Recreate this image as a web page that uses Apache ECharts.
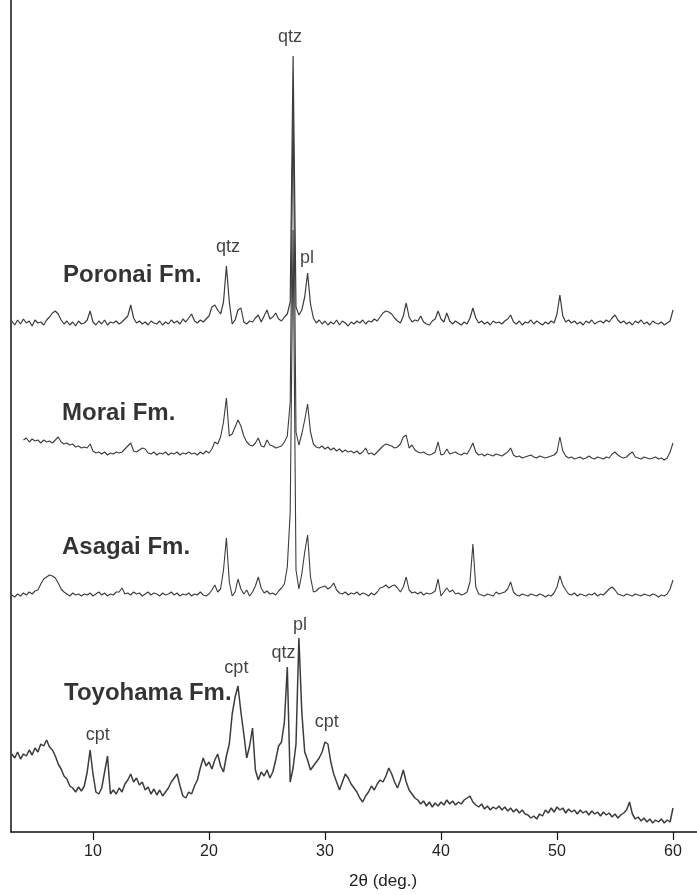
<!DOCTYPE html>
<html>
<head>
<meta charset="utf-8">
<script src="https://cdn.jsdelivr.net/npm/echarts@6/dist/echarts.min.js"></script>
<style>
  html, body { margin: 0; padding: 0; background: #fff; }
  #chart { width: 697px; height: 895px; }
</style>
</head>
<body>
<div id="chart"></div>
<script>
// 2θ sampling of the traces (deg.)
const twoThetaStart = 3.0;
const twoThetaStep = 0.25;

// stacked intensities (arbitrary units, offsets included)
const poronai = [
  511,507,512,508,513,509,511,506,512,509,
  510,507,512,515,519,521,518,512,508,511,
  507,510,506,511,508,509,512,521,510,507,
  511,508,512,507,510,509,511,508,510,513,
  516,527,514,509,511,508,510,507,511,509,
  508,511,507,510,508,512,509,511,508,513,
  510,514,518,511,509,512,510,513,516,525,
  527,522,518,530,566,530,508,512,522,524,
  510,508,511,510,514,517,510,516,522,513,
  515,519,513,511,515,518,530,776,525,517,
  522,535,559,528,514,509,512,508,511,507,
  510,508,512,507,511,509,506,510,508,511,
  509,512,508,511,510,513,511,515,519,521,
  520,518,514,511,509,516,529,515,510,512,
  511,516,510,508,507,511,513,521,513,510,
  519,511,508,511,509,507,510,508,514,524,
  514,509,511,508,510,507,511,509,510,508,
  511,513,517,510,508,511,507,510,509,512,
  508,511,509,507,510,508,511,509,518,537,
  516,510,512,509,511,508,510,507,511,509,
  512,508,510,511,509,512,510,514,517,512,
  509,511,508,510,507,511,509,512,508,510,
  507,511,509,508,510,507,509,511,522
];

const morai = [
  null,null,null,null,392,394,390,393,391,392,
  389,392,390,391,389,392,395,390,388,389,
  387,388,385,386,384,385,384,388,381,379,
  380,378,380,377,379,378,380,379,380,383,
  386,389,381,380,382,384,383,379,378,380,
  377,379,378,380,377,379,378,380,377,379,
  378,380,378,379,377,380,378,381,379,383,
  390,388,395,410,434,396,398,405,412,406,
  396,390,387,386,389,394,386,385,392,387,
  386,384,385,386,390,396,430,729,400,387,
  398,412,428,400,388,385,384,386,383,385,
  382,384,381,383,380,382,380,381,379,381,
  378,380,384,378,379,377,380,383,386,388,
  387,386,384,385,388,395,397,384,387,382,
  380,379,380,378,377,378,380,390,377,378,
  383,378,379,380,378,377,379,378,383,389,
  380,377,378,376,378,377,376,378,377,376,
  378,380,384,377,375,376,374,375,376,377,
  375,374,376,375,374,375,376,377,380,395,
  381,376,374,375,373,374,375,373,374,376,
  374,373,375,374,373,375,374,378,380,377,
  375,374,375,378,380,375,374,373,375,374,
  373,374,375,373,374,372,374,380,389
];

const asagai = [
  237,235,238,236,239,237,240,238,241,242,
  248,253,255,257,256,254,249,243,240,238,
  236,239,237,238,236,238,237,239,236,238,
  240,237,239,236,238,237,240,240,244,238,
  239,237,240,238,239,236,238,240,237,239,
  238,236,239,237,238,240,237,239,236,238,
  237,239,236,238,237,240,237,236,238,242,
  247,240,243,262,294,250,236,240,253,243,
  238,242,236,240,246,255,244,239,241,238,
  239,237,241,244,248,265,320,602,262,243,
  258,280,297,255,240,241,244,245,246,243,
  245,249,242,239,238,240,237,239,238,240,
  237,239,238,236,239,237,240,244,245,247,
  244,246,247,244,240,245,255,242,239,240,
  238,240,237,239,238,239,241,253,236,240,
  244,240,242,238,239,237,238,240,250,288,
  245,238,237,236,238,237,236,240,238,239,
  240,243,250,240,237,236,238,237,236,238,
  237,236,238,237,235,237,236,239,245,256,
  247,242,238,237,239,236,238,237,236,238,
  237,239,236,238,237,240,243,245,242,238,
  237,236,238,237,236,238,237,236,238,237,
  236,238,237,235,237,236,238,243,252
];

const toyohama = [
  78,74,80,73,78,76,82,77,84,80,
  88,86,92,85,82,76,68,63,56,53,
  46,44,40,45,41,46,60,82,58,40,
  38,44,60,76,38,42,38,44,40,48,
  52,58,50,54,47,50,42,45,38,43,
  37,42,36,40,44,50,54,58,46,36,
  34,40,38,46,52,64,74,66,70,63,
  72,78,66,60,76,88,118,135,146,120,
  98,74,86,104,62,52,60,56,62,54,
  60,72,86,90,110,165,50,64,88,194,
  120,80,72,62,66,70,74,80,90,88,
  70,58,50,42,50,58,54,48,44,40,
  34,30,36,40,46,42,48,52,50,56,
  64,58,50,44,52,62,50,42,38,34,
  32,28,31,26,30,25,29,26,30,27,
  32,28,31,27,30,28,32,34,36,30,
  27,25,28,23,26,22,25,23,26,22,
  25,21,24,20,23,19,22,18,17,14,
  16,13,18,16,22,19,24,20,25,22,
  24,19,23,20,22,18,22,19,21,17,
  21,18,20,16,20,17,19,15,18,14,
  17,19,22,30,18,13,15,11,14,10,
  13,9,12,10,13,9,12,10,24
];

// formation names: [text, 2θ, intensity]
const sampleNames = [
  ['Poronai Fm.', 7.41, 557],
  ['Morai Fm.', 7.33, 419],
  ['Asagai Fm.', 7.33, 285],
  ['Toyohama Fm.', 7.50, 139]
];

// mineral labels: [text, 2θ, intensity]
const peakLabels = [
  ['qtz', 26.98, 795],
  ['qtz', 21.64, 585],
  ['pl', 28.45, 574],
  ['cpt', 10.41, 97],
  ['cpt', 22.36, 164],
  ['qtz', 26.43, 179],
  ['pl', 27.84, 207],
  ['cpt', 30.15, 110]
];

const xTicks = [10, 20, 30, 40, 50, 60];

const chart = echarts.init(document.getElementById('chart'));

const toPairs = values => values.map((v, i) => [twoThetaStart + i * twoThetaStep, v]);

const trace = (name, values, width) => ({
  name: name,
  type: 'line',
  data: toPairs(values),
  showSymbol: false,
  symbol: 'none',
  sampling: null,
  lineStyle: { color: '#3c3c3c', width: width },
  silent: true,
  animation: false
});

const font = '"Liberation Sans", Arial, sans-serif';

const option = {
  backgroundColor: '#fff',
  animation: false,
  grid: { left: 11, right: 0, top: 0, bottom: 63 },
  xAxis: {
    type: 'value',
    min: 2.93,
    max: 62.07,
    axisLine: { show: true, onZero: false, lineStyle: { color: '#111', width: 1.5 } },
    axisTick: { show: true, customValues: xTicks, length: 8, lineStyle: { color: '#111', width: 1.2 } },
    axisLabel: { customValues: xTicks, color: '#222', fontSize: 16, fontFamily: font, margin: 12 },
    splitLine: { show: false }
  },
  yAxis: {
    type: 'value',
    min: 0,
    max: 832,
    axisLine: { show: true, lineStyle: { color: '#111', width: 1.5 } },
    axisTick: { show: false },
    axisLabel: { show: false },
    splitLine: { show: false }
  },
  graphic: [
    {
      type: 'text',
      left: 349,
      top: 873,
      style: { text: '2θ (deg.)', fill: '#222', font: '17px ' + font }
    }
  ],
  series: [
    trace('Poronai', poronai, 1.2),
    trace('Morai', morai, 1.1),
    trace('Asagai', asagai, 1.1),
    trace('Toyohama', toyohama, 1.5),
    {
      type: 'scatter',
      symbolSize: 0,
      silent: true,
      data: sampleNames.map(d => ({ name: d[0], value: [d[1], d[2]] })),
      label: {
        show: true,
        position: 'right',
        distance: 0,
        formatter: '{b}',
        color: '#000',
        textBorderWidth: 0,
        fontSize: 24,
        fontWeight: 'bold',
        fontFamily: font
      }
    },
    {
      type: 'scatter',
      symbolSize: 0,
      silent: true,
      data: peakLabels.map(d => ({ name: d[0], value: [d[1], d[2]] })),
      label: {
        show: true,
        position: 'inside',
        formatter: '{b}',
        color: '#111',
        textBorderWidth: 0,
        fontSize: 18,
        fontFamily: font
      }
    }
  ]
};

chart.setOption(option);

window.addEventListener('resize', () => chart.resize());
</script>
</body>
</html>
